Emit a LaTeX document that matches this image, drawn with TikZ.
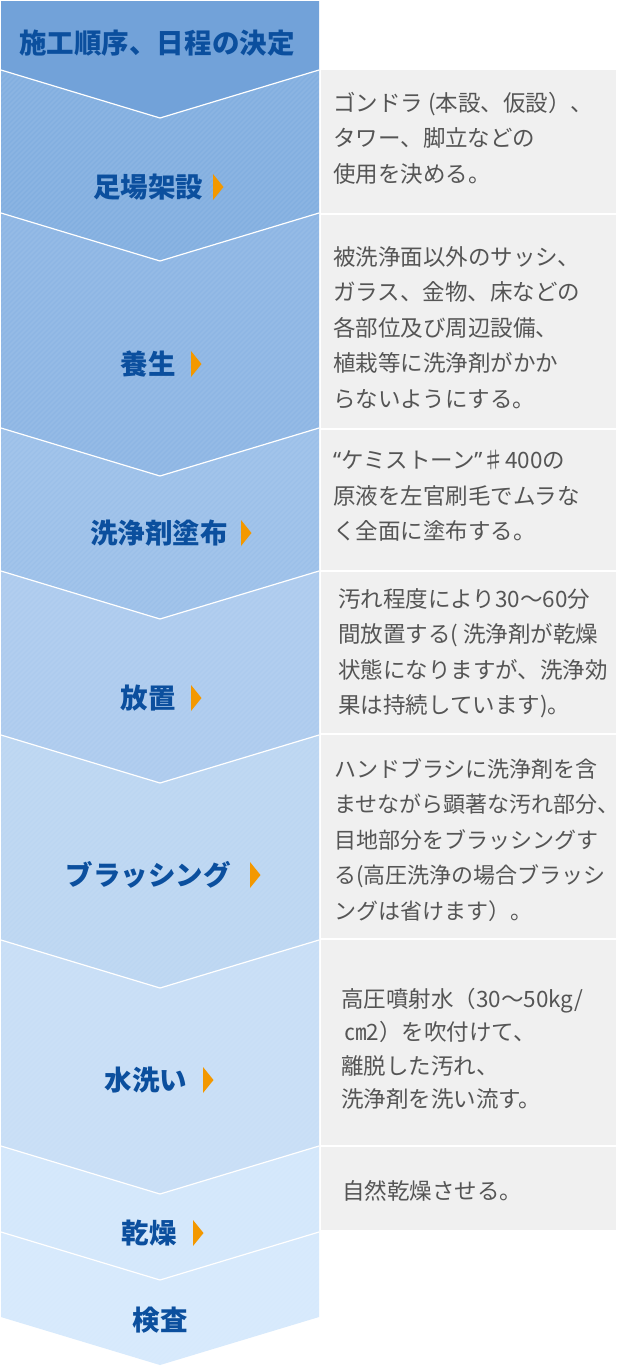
\documentclass[tikz,border=0pt]{standalone}
\usepackage{fontspec}
\setmainfont{Noto Sans CJK JP}
\newfontfamily\latinq{Noto Sans}
\definecolor{cA}{HTML}{72A2D9}
\definecolor{cB}{HTML}{83AFE0}
\definecolor{cC}{HTML}{8EB6E4}
\definecolor{cD}{HTML}{9CC0E9}
\definecolor{cE}{HTML}{ADCBEE}
\definecolor{cF}{HTML}{BCD6F2}
\definecolor{cG}{HTML}{C8DEF6}
\definecolor{cH}{HTML}{D3E7FB}
\definecolor{cI}{HTML}{D6E9FC}
\definecolor{boxgray}{HTML}{F0F0F0}
\definecolor{descgray}{HTML}{555555}
\definecolor{lblblue}{HTML}{0B4F9E}
\definecolor{arrorange}{HTML}{F39800}
\newcommand\stepblockX[3]{\fill[#1] (1,#2) -- (160,#2+48) -- (319,#2) -- (319,#3) -- (160,#3+48) -- (1,#3) -- cycle;}
\newcommand\sepVline[1]{\draw[sepline] (1,#1) -- (160,#1+48) -- (319,#1);}
\newcommand\stepmarkX[2]{\fill[arrorange] (#1,#2-13) -- (#1+10.5,#2) -- (#1,#2+13) -- cycle;}
\begin{document}
\begin{tikzpicture}[x=1pt,y=-1pt,
  sepline/.style={white,line width=1.2pt},
  lbl/.style={font=\fontsize{27.5}{27.5}\selectfont\bfseries,text=lblblue,inner sep=0pt},
  desc/.style={font=\fontsize{22.5}{35.5}\selectfont,text=descgray,align=left,anchor=north west,inner sep=0pt},
  grayboxst/.style={fill=boxgray}]
\useasboundingbox (0,0) rectangle (617,1368);
\fill[white] (0,0) rectangle (617,1368);
% column blocks
\fill[cA] (1,1) -- (319,1) -- (319,70) -- (160,118) -- (1,70) -- cycle;
\stepblockX{cB}{70}{213}
\stepblockX{cC}{213}{428}
\stepblockX{cD}{428}{571}
\stepblockX{cE}{571}{735}
\stepblockX{cF}{735}{940}
\stepblockX{cG}{940}{1146}
\stepblockX{cH}{1146}{1232}
\stepblockX{cI}{1232}{1317}
% faint diagonal stripes
\begin{scope}
\clip (1,70) -- (160,118) -- (319,70) -- (319,1317) -- (160,1365) -- (1,1317) -- cycle;
\foreach \i in {-1400,-1395,...,320}
  \draw[white,opacity=0.07,line width=1.6pt] (\i,1400) -- (\i+1400,0);
\end{scope}
% separators
\sepVline{70}
\sepVline{213}
\sepVline{428}
\sepVline{571}
\sepVline{735}
\sepVline{940}
\sepVline{1146}
\sepVline{1232}
% gray boxes
\fill[grayboxst] (321,70) rectangle (616,213);
\fill[grayboxst] (321,215) rectangle (616,428);
\fill[grayboxst] (321,430) rectangle (616,570);
\fill[grayboxst] (321,572) rectangle (616,733);
\fill[grayboxst] (321,735) rectangle (616,938);
\fill[grayboxst] (321,940) rectangle (616,1145);
\fill[grayboxst] (321,1147) rectangle (616,1230);
% labels
\node[lbl] (s0) at (157,43) {施工順序、日程の決定};
\node[lbl] (s1) at (148,187) {足場架設};
\stepmarkX{213}{187}
\node[lbl] (s2) at (148,364) {養生};
\stepmarkX{191}{364}
\node[lbl] (s3) at (159,533) {洗浄剤塗布};
\stepmarkX{241}{533}
\node[lbl] (s4) at (148,698) {放置};
\stepmarkX{191}{698}
\node[lbl] (s5) at (148,875) {ブラッシング};
\stepmarkX{250}{875}
\node[lbl] (s6) at (146,1080) {水洗い};
\stepmarkX{203}{1080}
\node[lbl] (s7) at (149,1233) {乾燥};
\stepmarkX{193}{1233}
\node[lbl] (s8) at (160,1320) {検査};
% descriptions
\node[desc] (d1) at (333,92) {ゴンドラ (本設、仮設）、\\タワー、脚立などの\\使用を決める。};
\node[desc] (d2) at (333,246) {被洗浄面以外のサッシ、\\ガラス、金物、床などの\\各部位及び周辺設備、\\植栽等に洗浄剤がかか\\らないようにする。};
\node[desc] (d3) at (333,450) {{\latinq “}ケミストーン{\latinq ”}♯400の\\原液を左官刷毛でムラな\\く全面に塗布する。};
\node[desc] (d4) at (338,588) {汚れ程度により30～60分\\間放置する( 洗浄剤が乾燥\\状態になりますが、洗浄効\\果は持続しています)。};
\node[desc,font=\fontsize{22}{35.5}\selectfont] (d5) at (334,758) {ハンドブラシに洗浄剤を含\\ませながら顕著な汚れ部分\makebox[10pt][l]{、}\\目地部分をブラッシングす\\る(高圧洗浄の場合ブラッシ\\ングは省けます）。};
\node[desc,font=\fontsize{22.5}{33.5}\selectfont] (d6) at (341,988) {高圧噴射水（30～50kg/\\\hspace*{3pt}㎝2）を吹付けて、\\離脱した汚れ、\\洗浄剤を洗い流す。};
\node[desc] (d7) at (342,1180) {自然乾燥させる。};
\end{tikzpicture}
\end{document}
